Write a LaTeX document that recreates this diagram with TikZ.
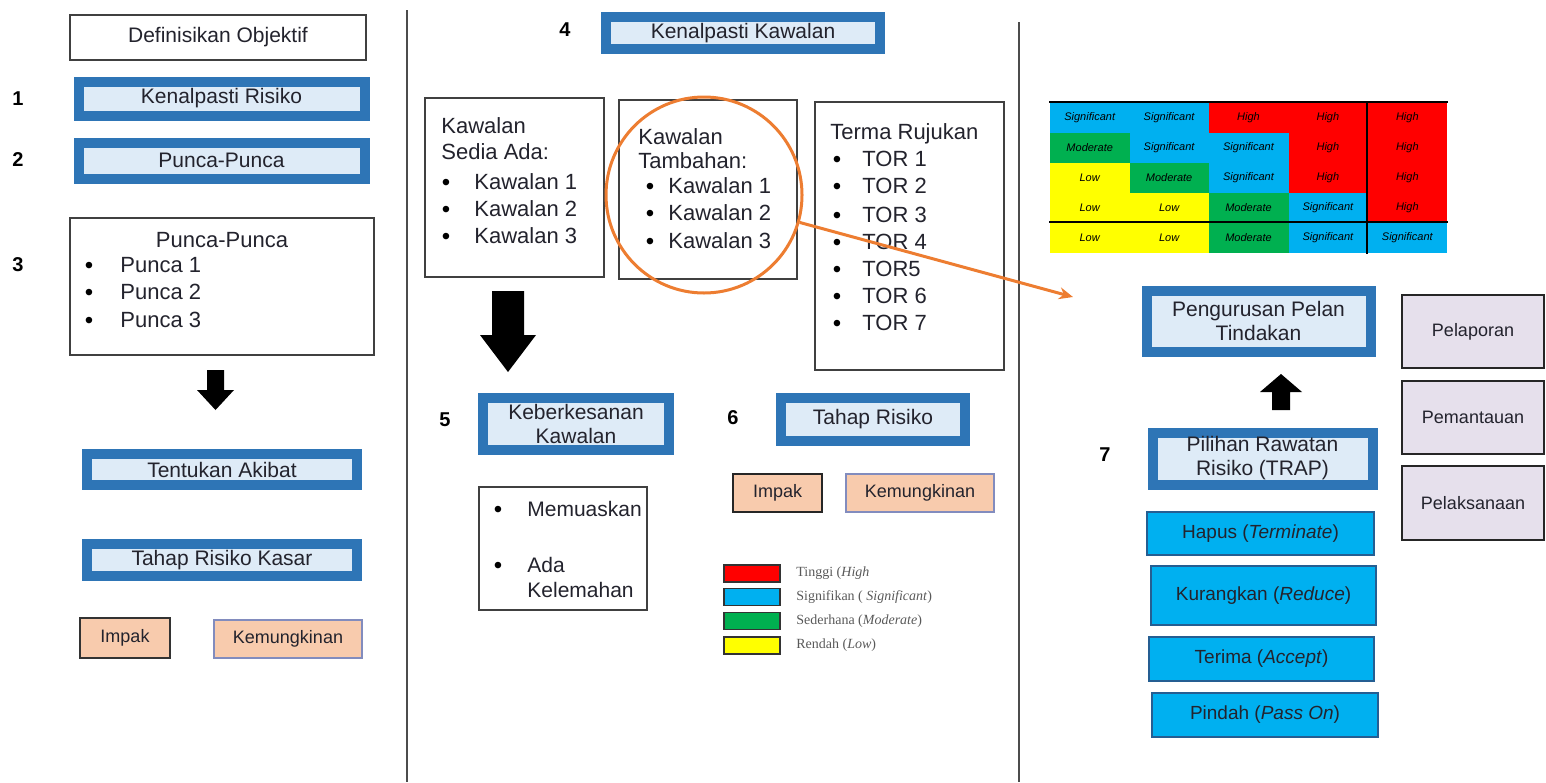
\documentclass[tikz,border=0pt]{standalone}
\usepackage{fontspec}
\setmainfont{Liberation Sans}
\newfontfamily\legendfont{Liberation Serif}
\usetikzlibrary{arrows.meta}

\definecolor{kblue}{RGB}{46,117,182}
\definecolor{klight}{RGB}{222,235,247}
\definecolor{kpeach}{RGB}{248,203,173}
\definecolor{kslate}{RGB}{130,140,190}
\definecolor{korange}{RGB}{237,125,49}
\definecolor{klav}{RGB}{230,224,236}
\definecolor{ktext}{RGB}{35,35,45}
\definecolor{rhigh}{RGB}{255,0,0}
\definecolor{rsig}{RGB}{0,176,240}
\definecolor{rmod}{RGB}{0,176,80}
\definecolor{rlow}{RGB}{255,255,0}

\begin{document}
\begin{tikzpicture}[x=0.5pt, y=-0.5pt,
    every node/.style={text=ktext},
    stepbox/.style={draw=kblue, line width=5pt, fill=klight, inner sep=0pt,
        align=center, font=\fontsize{10.5}{12}\selectfont},
    plainbox/.style={draw=black!75, line width=1pt, fill=white, inner sep=0pt},
    smallbox/.style={fill=kpeach, line width=1pt, inner sep=0pt,
        font=\fontsize{9}{11}\selectfont},
    trapbox/.style={fill=rsig, draw=kblue!80!black, line width=0.8pt,
        inner sep=0pt, font=\fontsize{9.5}{11}\selectfont},
    sidebox/.style={fill=klav, draw=black!85, line width=1.3pt, inner sep=0pt,
        font=\fontsize{9}{11}\selectfont},
    stepnum/.style={inner sep=0pt, text=black, font=\fontsize{10}{12}\selectfont\bfseries},
    listline/.style={anchor=west, inner sep=0pt, font=\fontsize{11}{13}\selectfont},
    listdot/.style={inner sep=0pt, yshift=-1.2pt, text=black, font=\fontsize{12}{13}\selectfont},
    cell/.style={minimum width=40pt, minimum height=15.2pt, inner sep=0pt,
        text=black, font=\fontsize{5.5}{6}\selectfont\itshape},
    swatch/.style={draw=black!80, line width=0.8pt, minimum width=28pt,
        minimum height=8.5pt, inner sep=0pt},
    legend/.style={anchor=west, inner sep=0pt, text=black!65,
        font=\legendfont\fontsize{7}{8}\selectfont},
    divider/.style={draw=black!70, line width=1pt}]
    \useasboundingbox (0,0) rectangle (1546,782);
    % Dividers between the three columns
    \draw[divider] (407,10) -- (407,782);
    \draw[divider] (1019,22) -- (1019,782);

    % Left column
    \node[plainbox, minimum width=148pt, minimum height=22.5pt,
        font=\fontsize{10.5}{12}\selectfont] (objektif) at (218,37.5) {Definisikan Objektif};
    \node[stepnum] (n1) at (18,99) {1};
    \node[stepbox, minimum width=143pt, minimum height=17pt] (risiko) at (221.5,98.5) {Kenalpasti Risiko};
    \node[stepnum] (n2) at (18,160) {2};
    \node[stepbox, minimum width=143pt, minimum height=18pt] (punca) at (221.5,160.5) {Punca-Punca};
    \node[stepnum] (n3) at (18,265) {3};
    \node[plainbox, minimum width=152pt, minimum height=68.5pt] (puncalist) at (222,286.5) {};
    \node[inner sep=0pt, font=\fontsize{11}{13}\selectfont] (puncatitle) at (222,240) {Punca-Punca};
    \foreach \y [count=\n] in {265,292,320} {
        \node[listdot] (pdot\n) at (89,\y) {\textbullet};
        \node[listline] (pitem\n) at (120,\y) {Punca \n};
    }
    % Draw block arrow down
    \fill (207,370) -- (224,370) -- (224,390) -- (234,390) -- (215.5,410)
        -- (197,390) -- (207,390) -- cycle;
    \node[stepbox, minimum width=135pt, minimum height=15.5pt] (akibat) at (222,469.5) {Tentukan Akibat};
    \node[stepbox, minimum width=135pt, minimum height=16pt] (kasar) at (222,560) {Tahap Risiko Kasar};
    \node[smallbox, draw=black!80, minimum width=45pt, minimum height=20pt] (impaka) at (125,638) {Impak};
    \node[smallbox, draw=kslate, minimum width=74pt, minimum height=19pt] (mungka) at (288,639) {Kemungkinan};

    % Middle column
    \node[stepnum] (n4) at (565,30) {4};
    \node[stepbox, minimum width=137pt, minimum height=16pt] (kawalan) at (743,33) {Kenalpasti Kawalan};
    \node[plainbox, minimum width=89.5pt, minimum height=89.5pt] (sedia) at (514.5,187.5) {};
    \node[listline] (sediat1) at (441,126) {Kawalan};
    \node[listline] (sediat2) at (441,152) {Sedia Ada:};
    \foreach \y [count=\n] in {182,209,236} {
        \node[listdot] (sdot\n) at (446,\y) {\textbullet};
        \node[listline] (sitem\n) at (474,\y) {Kawalan \n};
    }
    \node[plainbox, minimum width=89pt, minimum height=89.5pt] (tambah) at (708,189.5) {};
    \node[listline] (tambaht1) at (638,137) {Kawalan};
    \node[listline] (tambaht2) at (638,161) {Tambahan:};
    \foreach \y [count=\n] in {186,213,241} {
        \node[listdot] (tdot\n) at (650,\y) {\textbullet};
        \node[listline] (titem\n) at (668,\y) {Kawalan \n};
    }
    \node[plainbox, minimum width=94.5pt, minimum height=134pt] (terma) at (909.5,236) {};
    \node[listline] (termat) at (830,134) {Terma Rujukan};
    \foreach \y/\t [count=\n] in {159/TOR 1,186/TOR 2,215/TOR 3,242/TOR 4,269/TOR5,296/TOR 6,323/TOR 7} {
        \node[listdot] (rdot\n) at (837,\y) {\textbullet};
        \node[listline] (ritem\n) at (862,\y) {\t};
    }
    % Orange ring and pointer to the matrix
    \node[circle, draw=korange, line width=1.5pt, minimum size=98pt, inner sep=0pt] (ring) at (704,195) {};
    \coordinate (tip) at (1073,297);
    \draw[korange, line width=1.5pt, -{Stealth[length=7pt,width=6pt]}] (ring.-16) -- (tip);
    % Draw block arrow down
    \fill (492,291) -- (524,291) -- (524,335) -- (536,335) -- (508,372)
        -- (480,335) -- (492,335) -- cycle;
    \node[stepnum] (n5) at (445,420) {5};
    \node[stepbox, minimum width=93pt, minimum height=26pt] (keber) at (576,424) {Keberkesanan\\Kawalan};
    \node[stepnum] (n6) at (733,418) {6};
    \node[stepbox, minimum width=92pt, minimum height=21.5pt] (tahap) at (873,419.5) {Tahap Risiko};
    \node[smallbox, draw=black!85, minimum width=44.5pt, minimum height=19pt] (impakb) at (777.5,493) {Impak};
    \node[smallbox, draw=kslate, minimum width=74pt, minimum height=19pt] (mungkb) at (920,493) {Kemungkinan};
    \node[plainbox, minimum width=84pt, minimum height=61.5pt] (puas) at (563,548.5) {};
    \node[listdot] (udot1) at (498,509) {\textbullet};
    \node[listline, font=\fontsize{10.5}{12}\selectfont] (uitem1) at (527,509) {Memuaskan};
    \node[listdot] (udot2) at (498,565) {\textbullet};
    \node[listline, font=\fontsize{10.5}{12}\selectfont] (uitem2) at (527,565) {Ada};
    \node[listline, font=\fontsize{10.5}{12}\selectfont] (uitem3) at (527,590) {Kelemahan};
    % Legend
    \foreach \y/\c/\t [count=\n] in {573.5/rhigh/{Tinggi (\textit{High}},
            597/rsig/{Signifikan ( \textit{Significant})},
            621/rmod/{Sederhana (\textit{Moderate})},
            645.5/rlow/{Rendah (\textit{Low})}} {
        \node[swatch, fill=\c] (sw\n) at (752,\y) {};
        \node[legend] (lg\n) at (796,\y) {\t};
    }

    % Right column: risk matrix
    % Draw high cells
    \foreach \i/\j in {0/2,0/3,0/4,1/3,1/4,2/3,2/4,3/4}
        \node[cell, fill=rhigh] (m\i\j) at ({1089.7+79.4*\j},{118+30*\i}) {High};
    % Draw significant cells
    \foreach \i/\j in {0/0,0/1,1/1,1/2,2/2,3/3,4/3,4/4}
        \node[cell, fill=rsig] (m\i\j) at ({1089.7+79.4*\j},{118+30*\i}) {Significant};
    % Draw moderate cells
    \foreach \i/\j in {1/0,2/1,3/2,4/2}
        \node[cell, fill=rmod] (m\i\j) at ({1089.7+79.4*\j},{118+30*\i}) {Moderate};
    % Draw low cells
    \foreach \i/\j in {2/0,3/0,3/1,4/0,4/1}
        \node[cell, fill=rlow] (m\i\j) at ({1089.7+79.4*\j},{118+30*\i}) {Low};
    \draw[line width=1pt] (m00.north west) -- (m04.north east);
    \draw[line width=1pt] (m40.north west) -- (m44.north east);
    \draw[line width=1pt] (m04.north west) -- (m44.south west);

    \node[stepbox, minimum width=112pt, minimum height=30.5pt] (tindakan) at (1258.5,321) {Pengurusan Pelan\\Tindakan};
    % Draw block arrow up
    \fill (1272,410) -- (1290,410) -- (1290,392) -- (1302,392) -- (1281,374)
        -- (1260,392) -- (1272,392) -- cycle;
    \node[stepnum] (n7) at (1105,455) {7};
    \node[stepbox, minimum width=110pt, minimum height=26pt] (trap) at (1262.5,458.5) {Pilihan Rawatan\\Risiko (TRAP)};
    \node[trapbox, minimum width=113.5pt, minimum height=21.5pt] (hapus) at (1260.5,533.5) {Hapus (\textit{Terminate})};
    \node[trapbox, minimum width=112.5pt, minimum height=29.5pt] (kurang) at (1263.5,595.5) {Kurangkan (\textit{Reduce})};
    \node[trapbox, minimum width=112.5pt, minimum height=22pt] (terima) at (1261.5,659) {Terima (\textit{Accept})};
    \node[trapbox, minimum width=113pt, minimum height=22pt] (pindah) at (1265,715) {Pindah (\textit{Pass On})};
    \node[sidebox, minimum width=71pt, minimum height=36.5pt] (lapor) at (1473,331.5) {Pelaporan};
    \node[sidebox, minimum width=71pt, minimum height=36.5pt] (pantau) at (1473,417.5) {Pemantauan};
    \node[sidebox, minimum width=71pt, minimum height=37pt] (laksana) at (1473,503) {Pelaksanaan};
\end{tikzpicture}
\end{document}
